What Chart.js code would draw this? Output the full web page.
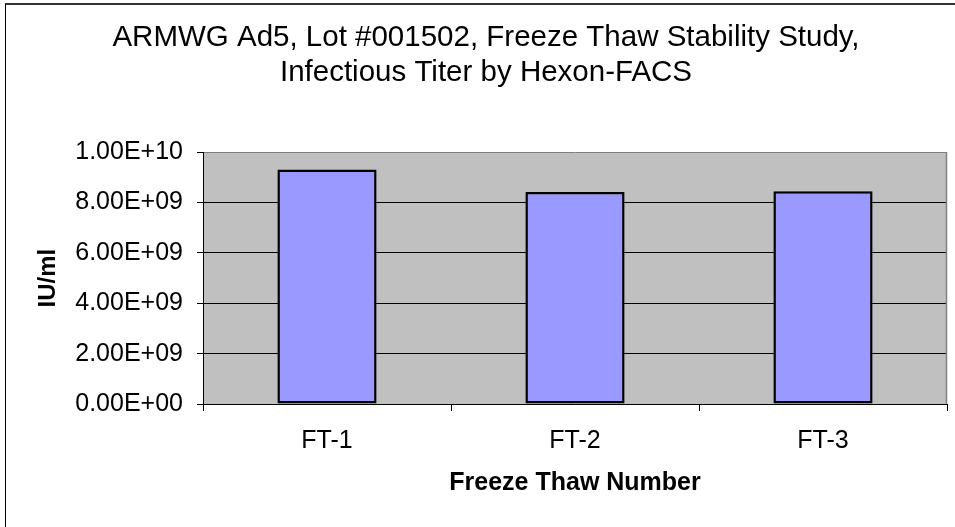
<!DOCTYPE html>
<html>
<head>
<meta charset="utf-8">
<script src="https://cdn.jsdelivr.net/npm/chart.js@4.4.1/dist/chart.umd.min.js"></script>
<style>
  html, body { margin: 0; padding: 0; background: #fff; overflow: hidden; }
  #wrap { position: relative; width: 955px; height: 527px; }
  #frame {
    position: absolute; left: 5px; top: 3px; width: 1000px; height: 600px;
    border-left: 1px solid #000; border-top: 2px solid #333; pointer-events: none;
  }
</style>
</head>
<body>
<div id="wrap">
  <canvas id="chart" width="955" height="527"></canvas>
  <div id="frame"></div>
</div>
<script>
// Freeze thaw titer data
const categories = ['FT-1', 'FT-2', 'FT-3'];
const titerValues = [9.31e9, 8.42e9, 8.45e9];
const yTicks = { min: 0, max: 1e10, step: 2e9 };

const FONT = "'Liberation Sans', Arial, sans-serif";

// format like 8.00E+09
function sciLabel(v) {
    const parts = Number(v).toExponential(2).split('e');
    const sign = parts[1][0];
    let exp = parts[1].slice(1);
    if (exp.length < 2) exp = '0' + exp;
    return parts[0] + 'E' + sign + exp;
}

// gray plot area with gray right frame
const plotBackground = {
    id: 'plotBackground',
    beforeDraw(chart) {
        const { ctx, chartArea: a } = chart;
        ctx.save();
        ctx.fillStyle = '#C0C0C0';
        ctx.fillRect(a.left, a.top, a.right - a.left, a.bottom - a.top);
        ctx.restore();
    },
    beforeDatasetsDraw(chart) {
        const { ctx, chartArea: a } = chart;
        ctx.save();
        ctx.strokeStyle = '#808080';
        ctx.lineWidth = 1.5;
        ctx.beginPath();
        ctx.moveTo(Math.round(a.right) - 0.5, a.top);
        ctx.lineTo(Math.round(a.right) - 0.5, a.bottom);
        ctx.stroke();
        ctx.restore();
    }
};

const ctx = document.getElementById('chart').getContext('2d');
new Chart(ctx, {
    type: 'bar',
    data: {
        labels: categories,
        datasets: [{
            label: 'IU/ml',
            data: titerValues,
            backgroundColor: '#9999FF',
            borderColor: '#000000',
            borderWidth: 2.5,
            borderSkipped: false,
            barPercentage: 0.4,
            categoryPercentage: 1.0
        }]
    },
    options: {
        responsive: false,
        animation: false,
        layout: { padding: { left: 25, right: 8, top: 0, bottom: 0 } },
        plugins: {
            legend: { display: false },
            tooltip: { enabled: false },
            title: {
                display: true,
                text: ['ARMWG Ad5, Lot #001502, Freeze Thaw Stability Study,', 'Infectious Titer by Hexon-FACS'],
                color: '#000',
                font: { family: FONT, size: 29.5, weight: 'normal', lineHeight: 1.19 },
                padding: { top: 20.5, bottom: 61.5 }
            }
        },
        scales: {
            x: {
                offset: true,
                grid: {
                    display: true,
                    offset: true,
                    drawOnChartArea: false,
                    drawTicks: true,
                    tickLength: 7,
                    tickColor: '#000',
                    color: '#000'
                },
                border: { display: true, color: '#000', width: 1 },
                ticks: {
                    color: '#000',
                    padding: 15,
                    font: { family: FONT, size: 25 }
                },
                title: {
                    display: true,
                    text: 'Freeze Thaw Number',
                    color: '#000',
                    font: { family: FONT, size: 25, weight: 'bold' },
                    padding: { top: 0, bottom: 29 }
                },
                afterFit(scale) { scale.height = 123; }
            },
            y: {
                min: yTicks.min,
                max: yTicks.max,
                grid: {
                    color: (c) => (c.tick && c.tick.value === yTicks.max ? '#808080' : '#000'),
                    lineWidth: 1,
                    tickLength: 6,
                    tickColor: '#000'
                },
                border: { display: true, color: '#000', width: 1 },
                ticks: {
                    stepSize: yTicks.step,
                    color: '#000',
                    padding: 14,
                    font: { family: FONT, size: 25 },
                    callback: (v) => sciLabel(v)
                },
                title: {
                    display: true,
                    text: 'IU/ml',
                    color: '#000',
                    font: { family: FONT, size: 24, weight: 'bold' },
                    padding: { top: 8.6, bottom: 0 }
                },
                afterFit(scale) { scale.width = 178; }
            }
        }
    },
    plugins: [plotBackground]
});
</script>
</body>
</html>
